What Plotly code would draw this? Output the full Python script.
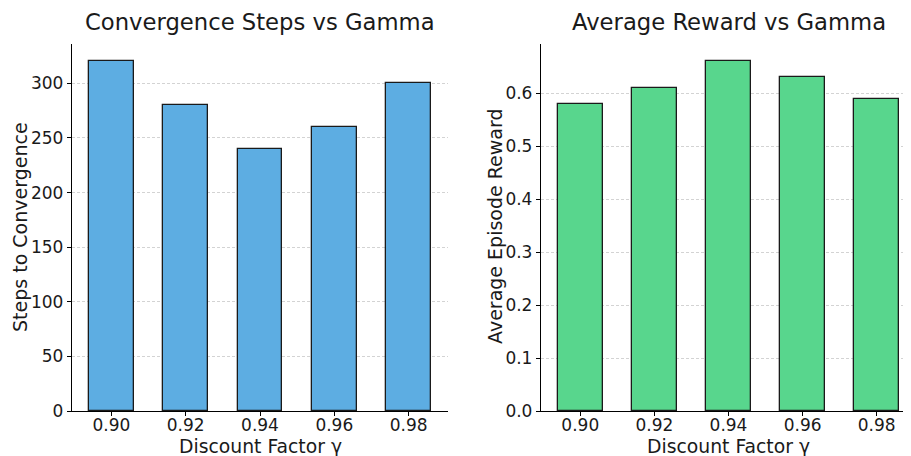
import plotly.graph_objects as go

gammas = ["0.90", "0.92", "0.94", "0.96", "0.98"]
steps = [320, 280, 240, 260, 300]
rewards = [0.58, 0.61, 0.66, 0.63, 0.59]

# The page body has an 8px margin; the figure is sized to fit the window and
# every layout position below is given in window pixels, shifted by OFF.
WIN_W, WIN_H = 911, 456
OFF = 8
W, H = WIN_W - OFF, WIN_H - OFF
FONT = "DejaVu Sans"
TXT = "#1a1a1a"

fig = go.Figure()
fig.add_trace(go.Bar(x=gammas, y=steps, width=0.6, marker=dict(color="#5DADE2", line=dict(color="#1a1a1a", width=1.3)),
                     xaxis="x", yaxis="y", showlegend=False))
fig.add_trace(go.Bar(x=gammas, y=rewards, width=0.6, marker=dict(color="#58D68D", line=dict(color="#1a1a1a", width=1.3)),
                     xaxis="x2", yaxis="y2", showlegend=False))

def px(x):
    return min(1.0, (x - OFF) / W)

def py(y):
    return 1 - (y - OFF) / H

axis_common = dict(showline=True, linecolor="black", linewidth=1.3, ticks="outside", ticklen=4, tickwidth=1.1,
                   tickcolor="black", tickfont=dict(family=FONT, size=17, color=TXT), zeroline=False,
                   automargin=False)
grid = dict(showgrid=True, gridcolor="#d3d3d3", griddash="3px,2px", gridwidth=0.7)

# right axis runs past the window edge: full span 541..916 px for [-0.53, 4.53]
r_scale = (916 - 541) / (4.53 + 0.53)
r_end = -0.53 + (WIN_W - 541) / r_scale

fig.update_layout(
    width=W, height=H, margin=dict(l=0, r=0, t=0, b=0, autoexpand=False),
    plot_bgcolor="white", paper_bgcolor="white",
    font=dict(family=FONT, color=TXT),
    bargap=0,
    xaxis=dict(domain=[px(72), px(448)], anchor="y", type="category", range=[-0.53, 4.53], showgrid=False,
               ticklabelstandoff=-6, **axis_common),
    yaxis=dict(domain=[py(411), py(44)], anchor="x", range=[0, 336], tickvals=[0, 50, 100, 150, 200, 250, 300],
               **grid, **axis_common),
    xaxis2=dict(domain=[px(541), 1.0], anchor="y2", type="category", range=[-0.53, r_end], showgrid=False,
                ticklabelstandoff=-6, **axis_common),
    yaxis2=dict(domain=[py(411), py(44)], anchor="x2", range=[0, 0.693], tickvals=[0, 0.1, 0.2, 0.3, 0.4, 0.5, 0.6],
                tickformat=".1f", **grid, **axis_common),
)

ann = []
def add(text, x, y, size, angle=0):
    ann.append(dict(text=text, x=px(x), y=py(y), xref="paper", yref="paper", xanchor="center", yanchor="middle",
                    showarrow=False, textangle=angle, font=dict(family=FONT, size=size, color=TXT)))

add("Convergence Steps vs Gamma", 260, 22, 22.7)
add("Average Reward vs Gamma", 728.5, 22, 22.7)
add("Discount Factor γ", 260, 446, 18.8)
add("Discount Factor γ", 728.5, 446, 18.8)
add("Steps to Convergence", 20, 227, 19, -90)
add("Average Episode Reward", 495, 227, 19, -90)
fig.update_layout(annotations=ann)

fig.write_html("out.html")
